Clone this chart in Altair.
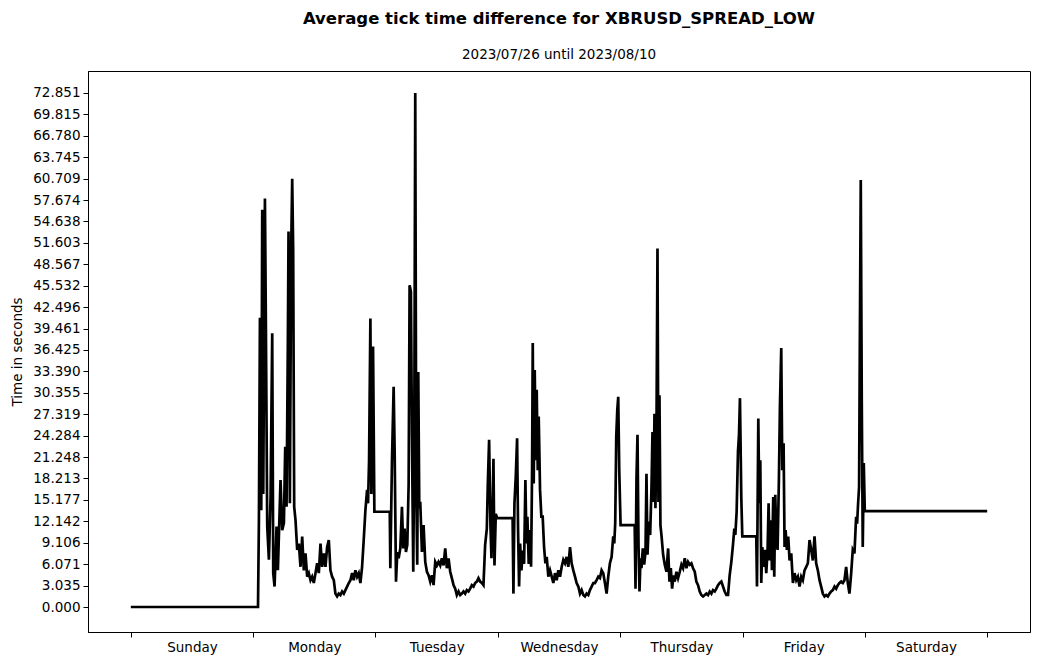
import altair as alt
import pandas as pd

TITLE = "Average tick time difference for XBRUSD_SPREAD_LOW"
SUBTITLE = "2023/07/26 until 2023/08/10"
Y_LABEL = "Time in seconds"
DAYS = ["Sunday", "Monday", "Tuesday", "Wednesday", "Thursday", "Friday", "Saturday"]
DAY_BOUNDS = [0, 24, 48, 72, 96, 120, 144, 168]
DAY_CENTERS = [12, 36, 60, 84, 108, 132, 156]
Y_TICKS = [0.000, 3.035, 6.071, 9.106, 12.142, 15.177, 18.213, 21.248, 24.284,
           27.319, 30.355, 33.390, 36.425, 39.461, 42.496, 45.532, 48.567,
           51.603, 54.638, 57.674, 60.709, 63.745, 66.780, 69.815, 72.851]

# (hour since Sunday 00:00, average seconds)
SUNDAY = [(0.0, 0.0), (24.95, 0.0)]
MONDAY = [
    (25.13, 12.3), (25.33, 41.0), (25.59, 13.7), (25.78, 56.3), (25.98, 16.0),
    (26.31, 57.9), (26.50, 39.7), (26.76, 11.4), (27.09, 6.7), (27.42, 15.6),
    (27.74, 38.8), (27.94, 4.8), (28.20, 2.9), (28.59, 11.4), (28.85, 5.2),
    (29.37, 18.0), (29.70, 10.9), (30.03, 11.9), (30.29, 22.7), (30.55, 14.2),
    (30.81, 37.8), (30.94, 53.2), (31.20, 14.7), (31.46, 50.6), (31.66, 60.7),
    (31.85, 50.6), (32.05, 14.2), (32.31, 12.3), (32.64, 8.1), (32.96, 9.0),
    (33.29, 5.7), (33.62, 10.0), (33.94, 5.2), (34.27, 7.6), (34.60, 4.3),
    (34.92, 4.8), (35.25, 3.8), (35.57, 4.3), (35.90, 3.4), (36.23, 4.8),
    (36.55, 6.2), (36.88, 4.8), (37.21, 9.0), (37.53, 5.7), (37.86, 7.6),
    (38.19, 5.7), (38.51, 8.5), (38.84, 9.5), (39.16, 5.2), (39.49, 4.3),
    (39.82, 3.8), (40.14, 1.9), (40.47, 1.5), (40.80, 1.9), (41.12, 1.7),
    (41.45, 2.2), (41.78, 1.9), (42.10, 2.4), (42.43, 2.9), (42.76, 3.4),
    (43.08, 3.8), (43.41, 4.8), (43.73, 3.8), (44.06, 5.2), (44.39, 4.3),
    (44.71, 4.8), (45.04, 3.4), (45.37, 5.7), (45.69, 9.5), (46.02, 13.7),
    (46.35, 16.6), (46.54, 14.7), (46.74, 20.8), (47.00, 40.9), (47.19, 16.0),
    (47.52, 36.9), (47.78, 13.5),
]
TUESDAY = [
    (50.80, 13.5), (50.91, 5.5), (51.23, 20.6), (51.56, 31.2), (51.76, 22.0),
    (52.02, 3.6), (52.28, 7.8), (52.54, 6.9), (52.87, 8.3), (53.19, 14.2),
    (53.45, 8.3), (53.71, 11.1), (53.97, 7.8), (54.24, 8.8), (54.50, 17.3),
    (54.69, 45.6), (54.95, 44.7), (55.15, 24.4), (55.41, 5.0), (55.61, 24.4),
    (55.80, 72.85), (56.00, 16.3), (56.19, 6.0), (56.39, 33.3), (56.59, 14.0),
    (56.78, 14.9), (57.11, 7.8), (57.43, 11.6), (57.76, 6.4), (58.09, 5.0),
    (58.41, 4.5), (58.74, 3.6), (59.07, 4.5), (59.39, 3.1), (59.72, 6.4),
    (60.05, 5.9), (60.37, 6.4), (60.70, 5.9), (61.02, 6.9), (61.35, 5.9),
    (61.68, 8.3), (62.00, 5.5), (62.33, 6.9), (62.66, 5.0), (62.98, 4.1),
    (63.31, 3.1), (63.64, 2.6), (63.96, 1.7), (64.29, 2.2), (64.62, 1.7),
    (64.94, 1.9), (65.27, 2.2), (65.59, 1.9), (65.92, 2.4), (66.25, 2.2),
    (66.57, 2.6), (66.90, 3.1), (67.23, 2.9), (67.55, 3.4), (67.88, 3.6),
    (68.20, 4.1), (68.53, 3.6), (68.86, 3.4), (69.18, 3.1), (69.51, 8.8),
    (69.84, 11.1), (70.03, 17.3), (70.29, 23.7), (70.55, 11.6), (70.75, 6.9),
    (70.95, 12.6), (71.14, 21.0), (71.34, 5.9), (71.60, 13.2), (71.86, 12.6),
]
WEDNESDAY = [
    (74.90, 12.6), (75.06, 1.9), (75.26, 14.7), (75.52, 18.5), (75.78, 23.9),
    (75.97, 10.9), (76.17, 2.9), (76.37, 9.0), (76.63, 5.2), (76.89, 8.0),
    (77.15, 6.1), (77.41, 18.0), (77.61, 9.0), (77.80, 12.8), (78.06, 6.1),
    (78.32, 10.9), (78.52, 5.7), (78.72, 19.4), (78.85, 37.4), (79.04, 17.5),
    (79.24, 33.6), (79.43, 20.8), (79.63, 30.8), (79.83, 19.4), (80.02, 27.0),
    (80.28, 16.6), (80.54, 12.8), (80.80, 12.8), (81.07, 8.5), (81.33, 6.2),
    (81.59, 7.1), (81.91, 4.3), (82.24, 5.2), (82.57, 4.3), (82.89, 3.4),
    (83.22, 4.8), (83.55, 3.8), (83.87, 5.2), (84.20, 4.3), (84.53, 5.7),
    (84.85, 6.7), (85.18, 6.2), (85.50, 7.1), (85.83, 5.7), (86.16, 8.5),
    (86.48, 6.2), (86.81, 5.2), (87.14, 4.3), (87.46, 3.4), (87.79, 2.9),
    (88.12, 1.9), (88.44, 2.4), (88.77, 1.7), (89.09, 1.5), (89.42, 1.9),
    (89.75, 1.7), (90.07, 2.4), (90.40, 2.9), (90.73, 3.4), (91.05, 3.4),
    (91.38, 3.8), (91.71, 4.3), (92.03, 4.1), (92.36, 5.2), (92.68, 4.8),
    (93.01, 3.4), (93.34, 1.9), (93.66, 4.3), (93.99, 6.2), (94.32, 7.1),
    (94.64, 10.0), (94.84, 9.0), (95.03, 11.9), (95.23, 24.1), (95.43, 27.9),
    (95.62, 29.8), (95.82, 19.4), (96.08, 11.6),
]
THURSDAY = [
    (98.85, 11.6), (99.01, 2.6), (99.20, 18.2), (99.40, 24.4), (99.60, 8.8),
    (99.79, 2.2), (99.99, 6.9), (100.18, 5.5), (100.44, 8.3), (100.71, 6.0),
    (100.97, 7.8), (101.16, 18.9), (101.36, 7.4), (101.62, 12.1), (101.88, 10.2),
    (102.14, 16.8), (102.34, 24.8), (102.53, 14.9), (102.73, 27.4), (102.92, 14.0),
    (103.12, 24.4), (103.32, 50.8), (103.51, 14.9), (103.71, 30.0), (103.90, 11.6),
    (104.10, 10.2), (104.43, 7.4), (104.75, 6.0), (105.08, 5.0), (105.41, 8.3),
    (105.67, 3.6), (105.93, 5.5), (106.19, 2.6), (106.45, 4.5), (106.71, 3.6),
    (107.04, 5.0), (107.36, 4.1), (107.69, 5.0), (108.02, 6.0), (108.34, 5.5),
    (108.67, 6.9), (109.00, 5.5), (109.32, 6.4), (109.65, 6.0), (109.97, 6.2),
    (110.30, 5.5), (110.63, 5.0), (110.95, 3.6), (111.28, 3.1), (111.61, 2.2),
    (111.93, 1.7), (112.26, 1.5), (112.59, 1.7), (112.91, 1.9), (113.24, 1.7),
    (113.57, 2.2), (113.89, 1.9), (114.22, 2.4), (114.55, 2.2), (114.87, 2.6),
    (115.20, 3.1), (115.52, 3.4), (115.85, 3.6), (116.18, 2.9), (116.50, 2.2),
    (116.83, 1.7), (117.16, 1.7), (117.48, 4.5), (117.81, 6.4), (118.13, 8.8),
    (118.39, 11.1), (118.59, 10.2), (118.85, 13.5), (119.11, 22.0), (119.31, 24.4),
    (119.50, 29.6), (119.76, 15.6), (119.96, 10.0),
]
FRIDAY = [
    (122.70, 10.0), (122.84, 2.9), (123.10, 26.7), (123.29, 14.7), (123.49, 20.8),
    (123.68, 3.4), (123.88, 8.5), (124.14, 5.7), (124.40, 8.1), (124.66, 4.8),
    (124.92, 8.1), (125.12, 14.7), (125.32, 6.6), (125.58, 12.3), (125.77, 5.2),
    (126.03, 15.6), (126.23, 4.3), (126.43, 15.9), (126.62, 10.0), (126.88, 8.1),
    (127.14, 18.0), (127.34, 28.4), (127.60, 36.7), (127.80, 19.4), (128.06, 23.2),
    (128.25, 8.5), (128.45, 10.9), (128.71, 8.1), (128.97, 10.0), (129.23, 6.6),
    (129.56, 7.6), (129.89, 3.4), (130.21, 4.8), (130.54, 3.8), (130.86, 4.3),
    (131.19, 2.9), (131.52, 4.3), (131.84, 3.8), (132.17, 5.2), (132.50, 5.7),
    (132.82, 6.2), (133.15, 9.5), (133.48, 8.1), (133.80, 6.6), (134.13, 10.0),
    (134.45, 6.2), (134.78, 5.2), (135.11, 3.8), (135.43, 2.9), (135.76, 1.9),
    (136.09, 1.5), (136.41, 1.7), (136.74, 1.5), (137.07, 1.9), (137.39, 2.2),
    (137.72, 2.4), (138.05, 2.9), (138.37, 2.6), (138.70, 3.1), (139.02, 3.4),
    (139.35, 3.6), (139.68, 3.4), (140.00, 3.8), (140.33, 5.7), (140.66, 3.4),
    (140.98, 1.9), (141.31, 4.7), (141.63, 8.1), (141.96, 7.6), (142.29, 12.8),
    (142.48, 11.8), (142.68, 14.7), (142.87, 17.0), (143.00, 35.0), (143.20, 60.5),
    (143.40, 28.9), (143.59, 8.5), (143.79, 20.4), (143.99, 13.6),
]
SATURDAY = [(168.0, 13.6)]

rows = []
for seg in (SUNDAY, MONDAY, TUESDAY, WEDNESDAY, THURSDAY, FRIDAY, SATURDAY):
    for h, v in seg:
        rows.append({"hour": h, "seconds": v})
df = pd.DataFrame(rows)

FONT = "DejaVu Sans"
day_array = "[" + ",".join("'" + d + "'" for d in DAYS) + "]"
label_expr = f"datum.value % 24 == 12 ? {day_array}[floor(datum.value / 24)] : ''"

x_axis = alt.Axis(
    values=sorted(DAY_BOUNDS + DAY_CENTERS),
    labelExpr=label_expr,
    tickOpacity={"condition": {"test": "datum.value % 24 != 0", "value": 0}, "value": 1},
    grid=False, title=None, tickSize=5, labelPadding=3, labelOverlap=False,
    labelFlush=False, labelFontSize=13.5, labelFont=FONT, labelColor="black",
    tickColor="black", domainColor="black",
)
y_axis = alt.Axis(
    values=Y_TICKS, format=".3f", grid=False, title=Y_LABEL, tickSize=5,
    labelPadding=3, labelOverlap=False, labelFlush=False, labelFontSize=13.5,
    labelFont=FONT, labelColor="black", titleFont=FONT, titleFontSize=13.5,
    titleFontWeight="normal", titleColor="black", titlePadding=8,
    tickColor="black", domainColor="black",
)

chart = alt.Chart(df).mark_line(color="black", strokeWidth=2.7, clip=True).encode(
    x=alt.X("hour:Q", axis=x_axis, scale=alt.Scale(domain=[-8.4, 176.4], nice=False, zero=False)),
    y=alt.Y("seconds:Q", axis=y_axis, scale=alt.Scale(domain=[-3.54, 75.96], nice=False, zero=False)),
).properties(
    width=942, height=561,
    title=alt.TitleParams(
        text=TITLE, subtitle=SUBTITLE, anchor="middle", font=FONT, fontSize=16.5,
        fontWeight="bold", color="black", subtitleFont=FONT, subtitleFontSize=13.5,
        subtitleColor="black", subtitlePadding=20, offset=10,
    ),
    autosize=alt.AutoSizeParams(type="none"),
    padding={"left": 88, "top": 71, "right": 9, "bottom": 32},
    background="white",
).configure_view(stroke="black", strokeWidth=1)

chart.save("out.html", embed_options={"renderer": "svg", "actions": False})
